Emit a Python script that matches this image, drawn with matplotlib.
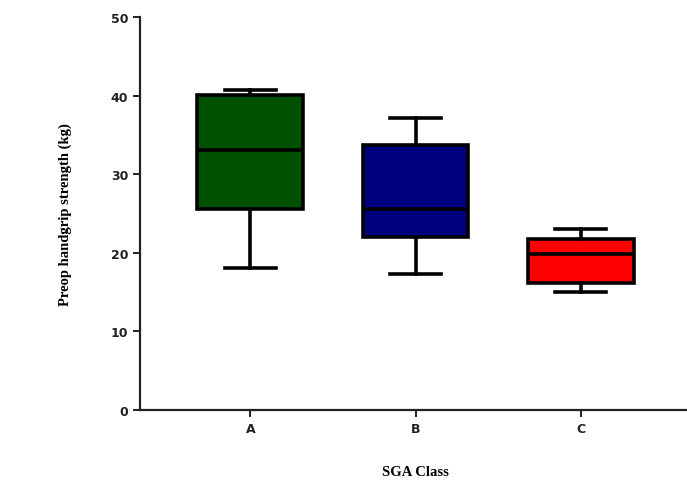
import matplotlib
matplotlib.use("Agg")
import matplotlib.pyplot as plt

# --- datos ---
classes = ["A", "B", "C"]
whisker_low = [18.1, 17.3, 15.0]
q1 = [25.6, 22.0, 16.2]
median = [33.1, 25.6, 19.8]
q3 = [40.1, 33.7, 21.8]
whisker_high = [40.7, 37.2, 23.0]
colors = ["#005200", "#00007f", "#ff0000"]

stats = []
for i, name in enumerate(classes):
    stats.append({"label": name, "whislo": whisker_low[i], "q1": q1[i],
                  "med": median[i], "q3": q3[i], "whishi": whisker_high[i]})

fig = plt.figure(figsize=(6.87, 4.85), dpi=100)
ax = fig.add_axes([0.204, 0.153, 0.80, 0.81])

lw = 2.6
bp = ax.bxp(stats, positions=[1, 2, 3], widths=0.64, patch_artist=True,
            showfliers=False,
            boxprops=dict(linewidth=lw, edgecolor="black"),
            medianprops=dict(color="black", linewidth=lw),
            whiskerprops=dict(color="black", linewidth=lw),
            capprops=dict(color="black", linewidth=lw),
            capwidths=0.31)
for patch, c in zip(bp["boxes"], colors):
    patch.set_facecolor(c)

ax.set_xlim(0.333, 3.66)
ax.set_ylim(0, 50)
ax.set_yticks([0, 10, 20, 30, 40, 50])
ax.spines["top"].set_visible(False)
ax.spines["right"].set_visible(False)
for s in ["left", "bottom"]:
    ax.spines[s].set_linewidth(1.6)
    ax.spines[s].set_color("#222222")
ax.tick_params(axis="both", direction="out", length=5, width=1.4, color="#222222",
               labelsize=9)
for lab in ax.get_yticklabels() + ax.get_xticklabels():
    lab.set_fontweight("bold")
    lab.set_color("#222222")

ax.set_ylabel("Preop handgrip strength (kg)", family="Liberation Serif",
              fontweight="bold", fontsize=10.5, labelpad=28)
ax.set_xlabel("SGA Class", family="Liberation Serif", fontweight="bold",
              fontsize=10.5, labelpad=22)

fig.savefig("out.png", dpi=100)
